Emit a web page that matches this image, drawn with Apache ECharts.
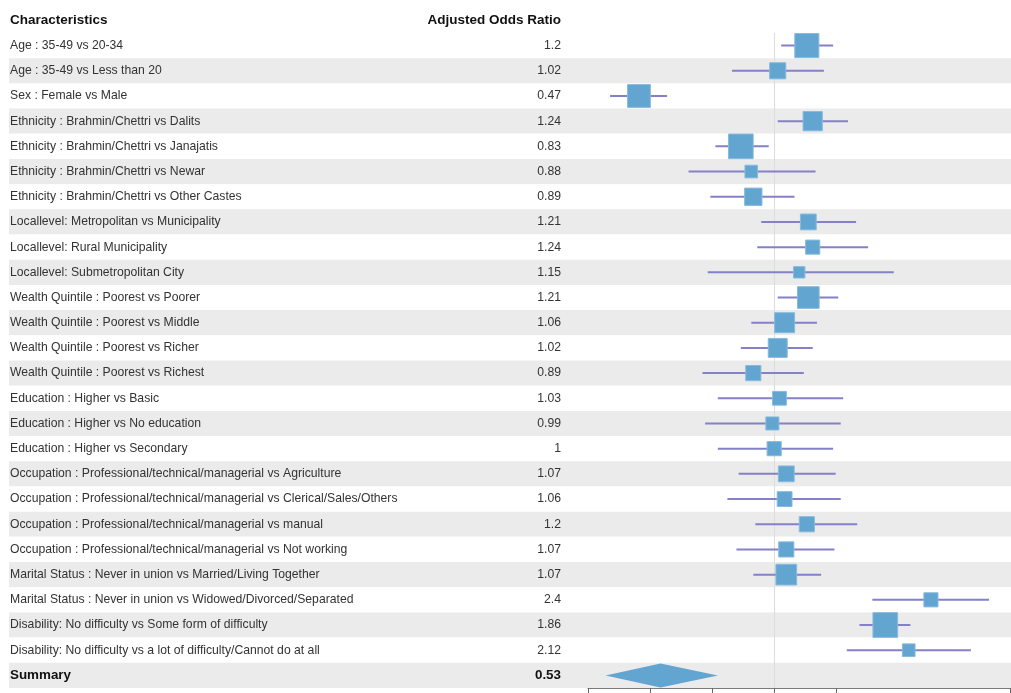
<!DOCTYPE html>
<html>
<head>
<meta charset="utf-8">
<script src="https://cdn.jsdelivr.net/npm/echarts@6/dist/echarts.min.js"></script>
<style>
  html, body { margin: 0; padding: 0; background: #fff; }
  #chart { width: 1011px; height: 693px; }
</style>
</head>
<body>
<div id="chart"></div>
<script>
// row labels, top to bottom
const labels = [
  'Age : 35-49 vs 20-34',
  'Age : 35-49 vs Less than 20',
  'Sex : Female vs Male',
  'Ethnicity : Brahmin/Chettri vs Dalits',
  'Ethnicity : Brahmin/Chettri vs Janajatis',
  'Ethnicity : Brahmin/Chettri vs Newar',
  'Ethnicity : Brahmin/Chettri vs Other Castes',
  'Locallevel: Metropolitan vs Municipality',
  'Locallevel: Rural Municipality',
  'Locallevel: Submetropolitan City',
  'Wealth Quintile : Poorest vs Poorer',
  'Wealth Quintile : Poorest vs Middle',
  'Wealth Quintile : Poorest vs Richer',
  'Wealth Quintile : Poorest vs Richest',
  'Education : Higher vs Basic',
  'Education : Higher vs No education',
  'Education : Higher vs Secondary',
  'Occupation : Professional/technical/managerial vs Agriculture',
  'Occupation : Professional/technical/managerial vs Clerical/Sales/Others',
  'Occupation : Professional/technical/managerial vs manual',
  'Occupation : Professional/technical/managerial vs Not working',
  'Marital Status : Never in union vs Married/Living Together',
  'Marital Status : Never in union vs Widowed/Divorced/Separated',
  'Disability: No difficulty vs Some form of difficulty',
  'Disability: No difficulty vs a lot of difficulty/Cannot do at all'
]
const oddsRatio = [1.2, 1.02, 0.47, 1.24, 0.83, 0.88, 0.89, 1.21, 1.24, 1.15, 1.21, 1.06, 1.02, 0.89, 1.03, 0.99, 1, 1.07, 1.06, 1.2, 1.07, 1.07, 2.4, 1.86, 2.12]
const lower = [1.04, 0.79, 0.40, 1.02, 0.72, 0.62, 0.70, 0.93, 0.91, 0.69, 1.02, 0.88, 0.83, 0.67, 0.73, 0.68, 0.73, 0.82, 0.77, 0.90, 0.81, 0.89, 1.73, 1.61, 1.50]
const upper = [1.39, 1.32, 0.55, 1.51, 0.97, 1.26, 1.12, 1.58, 1.69, 1.95, 1.43, 1.27, 1.24, 1.18, 1.47, 1.45, 1.39, 1.41, 1.45, 1.59, 1.40, 1.30, 3.32, 2.14, 3.00]
const weight = [5.8, 2.6, 5.2, 3.7, 6.1, 1.6, 3.0, 2.5, 2.0, 1.3, 4.7, 4.0, 3.6, 2.3, 1.9, 1.7, 2.0, 2.5, 2.2, 2.3, 2.3, 4.3, 2.0, 6.1, 1.6]

const summaryLabel = 'Summary'
const summaryOR = 0.53
const summaryLower = 0.39
const summaryUpper = 0.73

const ticks = [-1.5, -1, -0.5, 0, 0.5, 1.9]   // log2 odds ratio

const rows = labels.concat([summaryLabel])
const valueText = oddsRatio.map(v => String(v)).concat([String(summaryOR)])
const lg = v => Math.log2(v)

const font = "'Liberation Sans', Arial, sans-serif"
const gridTop = 33, gridHeight = 655

var chart = echarts.init(document.getElementById('chart'))

function renderRow(params, api) {
  const y = api.coord([0, api.value(1)])[1]
  const c = api.coord([api.value(0), api.value(1)])
  const lo = api.coord([api.value(2), api.value(1)])
  const hi = api.coord([api.value(3), api.value(1)])
  const s = Math.sqrt(api.value(4)) * 10
  return {
    type: 'group',
    children: [
      { type: 'line', shape: { x1: lo[0], y1: y, x2: hi[0], y2: y },
        style: { stroke: '#8481c8', lineWidth: 2 } },
      { type: 'rect', shape: { x: c[0] - s / 2, y: y - s / 2, width: s, height: s },
        style: { fill: '#62a5d1', stroke: '#86bbdd', lineWidth: 1 } }
    ]
  }
}

function renderDiamond(params, api) {
  const c = api.coord([api.value(0), api.value(1)])
  const lo = api.coord([api.value(2), api.value(1)])
  const hi = api.coord([api.value(3), api.value(1)])
  const h = 12
  return {
    type: 'polygon',
    shape: { points: [[lo[0], c[1]], [c[0], c[1] - h], [hi[0], c[1]], [c[0], c[1] + h]] },
    style: { fill: '#62a5d1' }
  }
}

const headStyle = { fontFamily: font, fontSize: 13.5, fontWeight: 'bold', color: '#111' }

let option = {
  animation: false,
  title: [
    { text: 'Characteristics', left: 10, top: 13, padding: 0, textStyle: headStyle },
    { text: 'Adjusted Odds Ratio', right: 450, top: 13, padding: 0, textStyle: headStyle }
  ],
  grid: [
    { left: 9, right: 0, top: gridTop, height: gridHeight },
    { left: 9, width: 552, top: gridTop, height: gridHeight },
    { left: 588, right: 1, top: gridTop, height: gridHeight }
  ],
  xAxis: [
    { gridIndex: 0, type: 'value', show: false },
    { gridIndex: 1, type: 'value', show: false },
    {
      gridIndex: 2, type: 'value', min: -1.5, max: 1.9, z: 5,
      axisLine: { show: true, onZero: false, lineStyle: { color: '#7a7a7a', width: 1 } },
      axisTick: { show: true, length: 5, customValues: ticks, lineStyle: { color: '#666' } },
      axisLabel: { show: false },
      splitLine: { show: false }
    }
  ],
  yAxis: [
    {
      gridIndex: 0, type: 'category', inverse: true, data: rows,
      axisLine: { show: false }, axisTick: { show: false, interval: 0 },
      splitArea: { show: true, interval: 0, areaStyle: { color: ['#ffffff', '#ebebeb'] } },
      axisLabel: {
        inside: true, margin: 1, interval: 0,
        fontFamily: font, fontSize: 12.2, color: '#333',
        formatter: (v, i) => i === rows.length - 1 ? '{b|' + v + '}' : v,
        rich: { b: { fontFamily: font, fontSize: 13.4, fontWeight: 'bold', color: '#111' } }
      }
    },
    {
      gridIndex: 1, type: 'category', inverse: true, position: 'right', data: rows,
      axisLine: { show: false }, axisTick: { show: false },
      axisLabel: {
        inside: true, margin: 0, interval: 0,
        fontFamily: font, fontSize: 12.2, color: '#333',
        formatter: (v, i) => i === rows.length - 1 ? '{b|' + valueText[i] + '}' : valueText[i],
        rich: { b: { fontFamily: font, fontSize: 13.4, fontWeight: 'bold', color: '#111' } }
      }
    },
    {
      gridIndex: 2, type: 'category', inverse: true, data: rows, show: false
    }
  ],
  series: [
    {
      type: 'custom', xAxisIndex: 2, yAxisIndex: 2,
      renderItem: renderDiamond,
      encode: { x: 0, y: 1 },
      data: [[lg(summaryOR), rows.length - 1, lg(summaryLower), lg(summaryUpper)]],
      markLine: {
        silent: true, symbol: 'none', label: { show: false }, z: 1,
        lineStyle: { color: '#dcdcdc', type: 'solid', width: 1 },
        data: [{ xAxis: 0 }]
      },
      z: 2
    },
    {
      type: 'custom', xAxisIndex: 2, yAxisIndex: 2,
      renderItem: renderRow,
      encode: { x: 0, y: 1 },
      data: oddsRatio.map((v, i) => [lg(v), i, lg(lower[i]), lg(upper[i]), weight[i]]),
      z: 4
    }
  ]
}
chart.setOption(option)
</script>
</body>
</html>
